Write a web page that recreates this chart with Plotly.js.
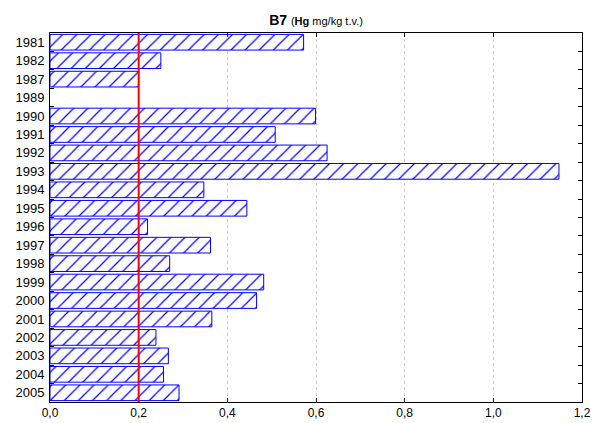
<!DOCTYPE html>
<html>
<head>
<meta charset="utf-8">
<script src="https://cdn.plot.ly/plotly-3.0.1.min.js"></script>
<style>html,body{margin:0;padding:0;background:#fff;}#chart{width:599px;height:423px;}</style>
</head>
<body>
<div id="chart"></div>
<script>
const years = ["1981","1982","1987","1989","1990","1991","1992","1993","1994","1995","1996","1997","1998","1999","2000","2001","2002","2003","2004","2005"];
const hgValues = [0.572,0.250,0.200,null,0.599,0.508,0.625,1.148,0.347,0.444,0.220,0.362,0.270,0.482,0.466,0.365,0.239,0.267,0.256,0.291];
const limitValue = 0.2;
const xTicks = [0,0.2,0.4,0.6,0.8,1.0,1.2];

const trace = {
  type: 'bar',
  orientation: 'h',
  y: years,
  x: hgValues,
  marker: {
    color: 'white',
    opacity: 1,
    line: {color: '#0000ff', width: 1},
    pattern: {shape: '/', fgcolor: '#0000ff', bgcolor: '#ffffff', fgopacity: 1, size: 10, solidity: 0.12}
  },
  hoverinfo: 'x+y'
};

const layout = {
  width: 599, height: 423,
  margin: {l: 50, r: 17, t: 33, b: 21},
  paper_bgcolor: 'white', plot_bgcolor: 'white',
  separators: ', ',
  showlegend: false,
  bargap: 0.15,
  font: {family: 'Liberation Sans, Arial, sans-serif', color: '#000', size: 12},
  title: {
    text: '<b>B7</b> <span style="font-size:11px">(<b>Hg</b> mg/kg t.v.)</span>',
    font: {size: 14, family: 'Liberation Sans, Arial, sans-serif', color: '#000'},
    x: 0.5, xref: 'paper', xanchor: 'center', y: 0.953, yanchor: 'middle'
  },
  xaxis: {
    range: [0, 1.2],
    tickvals: xTicks,
    tickformat: '.1f',
    ticks: 'inside', ticklen: 4, tickcolor: '#000',
    showline: true, linecolor: '#000', linewidth: 1, mirror: 'ticks',
    showgrid: true, gridcolor: '#c8c8c8', griddash: 'dot', gridwidth: 1,
    zeroline: false,
    tickfont: {size: 12},
    fixedrange: true
  },
  yaxis: {
    type: 'category',
    categoryorder: 'array',
    categoryarray: years,
    autorange: 'reversed',
    ticks: 'inside', ticklen: 4, tickcolor: '#000',
    tickson: 'boundaries',
    showline: true, linecolor: '#000', linewidth: 1, mirror: 'ticks',
    showgrid: false,
    tickfont: {size: 13},
    ticklabelstandoff: 2,
    fixedrange: true
  },
  shapes: [{
    type: 'line', xref: 'x', yref: 'paper',
    x0: limitValue, x1: limitValue, y0: 0, y1: 1,
    line: {color: '#ff0000', width: 2}
  }]
};

Plotly.newPlot('chart', [trace], layout, {displayModeBar: false, staticPlot: true});
</script>
</body>
</html>
